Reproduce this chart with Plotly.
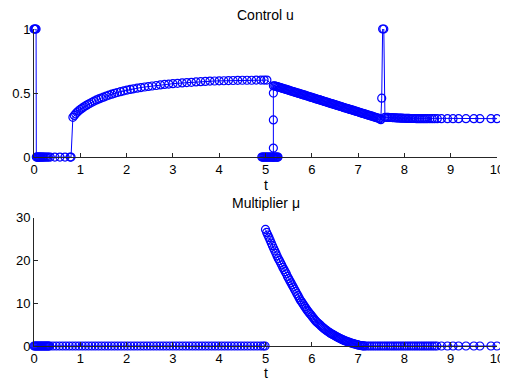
import plotly.graph_objects as go
from plotly.subplots import make_subplots

# ---- control u ----
# bang at the start, then the boundary arc up to t ~ 5
t_u_start = [0.0, 0.015, 0.03, 0.045,
             0.05, 0.065, 0.08, 0.095, 0.11, 0.125, 0.14, 0.16, 0.18, 0.2,
             0.22, 0.25, 0.28, 0.31, 0.35, 0.45, 0.56, 0.67, 0.78, 0.8,
             0.84, 0.87, 0.9, 0.93, 0.96, 1.0, 1.04, 1.08, 1.12, 1.16,
             1.2, 1.25, 1.3, 1.35, 1.4, 1.45, 1.5, 1.56, 1.62, 1.68,
             1.74, 1.8, 1.87, 1.94, 2.01, 2.08, 2.15, 2.23, 2.31, 2.39,
             2.47, 2.55, 2.64, 2.73, 2.82, 2.91, 3.0, 3.1, 3.2, 3.3,
             3.4, 3.5, 3.6, 3.7, 3.8, 3.9, 4.0, 4.1, 4.2, 4.3,
             4.4, 4.5, 4.6, 4.7, 4.8, 4.9, 4.97, 5.03,
             5.17, 5.17, 5.17, 5.17, 5.17]
u_start = [1.0, 1.0, 1.0, 1.0,
           0.0, 0.0, 0.0, 0.0, 0.0, 0.0, 0.0, 0.0, 0.0, 0.0,
           0.0, 0.0, 0.0, 0.0, 0.0, 0.0, 0.0, 0.0, 0.0, 0.0,
           0.31, 0.325, 0.338, 0.35, 0.36, 0.372, 0.382, 0.392, 0.401, 0.41,
           0.418, 0.428, 0.437, 0.446, 0.454, 0.461, 0.468, 0.476, 0.484, 0.491,
           0.498, 0.504, 0.511, 0.517, 0.523, 0.528, 0.533, 0.538, 0.543, 0.547,
           0.551, 0.555, 0.559, 0.563, 0.567, 0.57, 0.573, 0.576, 0.579, 0.582,
           0.584, 0.587, 0.589, 0.591, 0.593, 0.594, 0.595, 0.596, 0.597, 0.598,
           0.599, 0.6, 0.6, 0.6, 0.601, 0.601, 0.601, 0.601,
           0.556, 0.5, 0.29, 0.07, 0.0]

t_u_blob = [4.92, 4.94, 4.96, 4.98, 5.0, 5.02, 5.04, 5.06, 5.08, 5.1,
            5.12, 5.14, 5.16, 5.18, 5.2, 5.22, 5.24, 5.26, 5.27]
u_blob = [0.0, 0.0, 0.0, 0.0, 0.0, 0.0, 0.0, 0.0, 0.0, 0.0,
          0.0, 0.0, 0.0, 0.0, 0.0, 0.0, 0.0, 0.0, 0.0]

# decreasing arc, short spike back to 1 near t = 7.55, then flat tail
t_u_end = [5.2, 5.225, 5.25, 5.275, 5.3, 5.325, 5.35, 5.375, 5.4, 5.425,
           5.45, 5.475, 5.5, 5.525, 5.55, 5.575, 5.6, 5.625, 5.65, 5.675,
           5.7, 5.725, 5.75, 5.775, 5.8, 5.825, 5.85, 5.875, 5.9, 5.925,
           5.95, 5.975, 6.0, 6.025, 6.05, 6.075, 6.1, 6.125, 6.15, 6.175,
           6.2, 6.225, 6.25, 6.275, 6.3, 6.325, 6.35, 6.375, 6.4, 6.425,
           6.45, 6.475, 6.5, 6.525, 6.55, 6.575, 6.6, 6.625, 6.65, 6.675,
           6.7, 6.725, 6.75, 6.775, 6.8, 6.825, 6.85, 6.875, 6.9, 6.925,
           6.95, 6.975, 7.0, 7.025, 7.05, 7.075, 7.1, 7.125, 7.15, 7.175,
           7.2, 7.225, 7.25, 7.275, 7.3, 7.325, 7.35, 7.375, 7.4, 7.425,
           7.45, 7.475, 7.49,
           7.51, 7.53, 7.555, 7.58,
           7.62, 7.65, 7.68, 7.71, 7.74, 7.77, 7.8, 7.83, 7.86, 7.89,
           7.92, 7.95, 7.98, 8.01, 8.04, 8.07, 8.1, 8.13, 8.16, 8.19,
           8.22, 8.26, 8.3, 8.34, 8.38, 8.42, 8.46, 8.5, 8.55, 8.6,
           8.65, 8.71, 8.8, 8.93, 9.05, 9.17, 9.33, 9.5, 9.63, 9.87, 10.0]
u_end = [0.556, 0.553, 0.55, 0.548, 0.545, 0.542, 0.539, 0.536, 0.533, 0.531,
         0.528, 0.525, 0.522, 0.519, 0.516, 0.514, 0.511, 0.508, 0.505, 0.502,
         0.5, 0.497, 0.494, 0.491, 0.488, 0.485, 0.483, 0.48, 0.477, 0.474,
         0.471, 0.468, 0.466, 0.463, 0.46, 0.457, 0.454, 0.451, 0.449, 0.446,
         0.443, 0.44, 0.437, 0.434, 0.432, 0.429, 0.426, 0.423, 0.42, 0.417,
         0.415, 0.412, 0.409, 0.406, 0.403, 0.4, 0.398, 0.395, 0.392, 0.389,
         0.386, 0.383, 0.381, 0.378, 0.375, 0.372, 0.37, 0.367, 0.364, 0.361,
         0.358, 0.356, 0.353, 0.35, 0.347, 0.344, 0.341, 0.339, 0.336, 0.333,
         0.33, 0.327, 0.324, 0.322, 0.319, 0.316, 0.313, 0.31, 0.307, 0.305,
         0.302, 0.299, 0.292,
         0.46, 1.0, 1.0, 0.31,
         0.31, 0.31, 0.309, 0.309, 0.308, 0.307, 0.307, 0.306, 0.305, 0.305,
         0.304, 0.304, 0.303, 0.303, 0.302, 0.302, 0.302, 0.301, 0.301, 0.301,
         0.301, 0.3, 0.3, 0.3, 0.3, 0.3, 0.3, 0.3, 0.3, 0.3,
         0.3, 0.3, 0.3, 0.3, 0.3, 0.3, 0.3, 0.3, 0.3, 0.3, 0.3]

# ---- multiplier mu ----
t_mu_zero = [0.0, 0.02, 0.04, 0.06, 0.08, 0.1, 0.12, 0.14, 0.16, 0.18,
             0.2, 0.22, 0.24, 0.26, 0.28, 0.3, 0.32, 0.34,
             0.41, 0.48, 0.55, 0.62, 0.69, 0.76, 0.83, 0.9, 0.97, 1.04,
             1.11, 1.18, 1.25, 1.32, 1.39, 1.46, 1.53, 1.6, 1.67, 1.74,
             1.81, 1.88, 1.95, 2.02, 2.09, 2.16, 2.23, 2.3, 2.37, 2.44,
             2.51, 2.58, 2.65, 2.72, 2.79, 2.86, 2.93, 3.0, 3.07, 3.14,
             3.21, 3.28, 3.35, 3.42, 3.49, 3.56, 3.63, 3.7, 3.77, 3.84,
             3.91, 3.98, 4.05, 4.12, 4.19, 4.26, 4.33, 4.4, 4.47, 4.54,
             4.61, 4.68, 4.75, 4.82, 4.89, 4.95, 4.99]
mu_zero = [0.0, 0.0, 0.0, 0.0, 0.0, 0.0, 0.0, 0.0, 0.0, 0.0,
           0.0, 0.0, 0.0, 0.0, 0.0, 0.0, 0.0, 0.0,
           0.0, 0.0, 0.0, 0.0, 0.0, 0.0, 0.0, 0.0, 0.0, 0.0,
           0.0, 0.0, 0.0, 0.0, 0.0, 0.0, 0.0, 0.0, 0.0, 0.0,
           0.0, 0.0, 0.0, 0.0, 0.0, 0.0, 0.0, 0.0, 0.0, 0.0,
           0.0, 0.0, 0.0, 0.0, 0.0, 0.0, 0.0, 0.0, 0.0, 0.0,
           0.0, 0.0, 0.0, 0.0, 0.0, 0.0, 0.0, 0.0, 0.0, 0.0,
           0.0, 0.0, 0.0, 0.0, 0.0, 0.0, 0.0, 0.0, 0.0, 0.0,
           0.0, 0.0, 0.0, 0.0, 0.0, 0.0, 0.0]

t_mu_arc = [5.0, 5.025, 5.05, 5.075, 5.1, 5.125, 5.15, 5.175, 5.2, 5.225,
            5.25, 5.275, 5.3, 5.325, 5.35, 5.375, 5.4, 5.425, 5.45, 5.475,
            5.5, 5.525, 5.55, 5.575, 5.6, 5.625, 5.65, 5.675, 5.7, 5.725,
            5.75, 5.775, 5.8, 5.825, 5.85, 5.875, 5.9, 5.925, 5.95, 5.975,
            6.0, 6.025, 6.05, 6.075, 6.1, 6.125, 6.15, 6.175, 6.2, 6.225,
            6.25, 6.275, 6.3, 6.325, 6.35, 6.375, 6.4, 6.425, 6.45, 6.475,
            6.5, 6.525, 6.55, 6.575, 6.6, 6.625, 6.65, 6.675, 6.7, 6.725,
            6.75, 6.775, 6.8, 6.825, 6.85, 6.875, 6.9, 6.925, 6.95, 6.975,
            7.0, 7.025, 7.05, 7.075, 7.1, 7.125, 7.15,
            7.2, 7.25, 7.3, 7.35, 7.4, 7.45, 7.5, 7.55, 7.6, 7.65,
            7.7, 7.75, 7.8, 7.85, 7.9, 7.95, 8.0, 8.05, 8.1, 8.15,
            8.2, 8.25, 8.3, 8.35, 8.4, 8.45, 8.5, 8.55, 8.6, 8.65, 8.7,
            8.8, 8.93, 9.05, 9.17, 9.33, 9.5, 9.63, 9.87, 10.0]
mu_arc = [27.3, 26.6, 26.0, 25.4, 24.8, 24.1, 23.5, 22.9, 22.3, 21.7,
          21.1, 20.5, 20.0, 19.5, 19.0, 18.4, 17.9, 17.4, 16.9, 16.3,
          15.8, 15.3, 14.8, 14.3, 13.8, 13.3, 12.8, 12.3, 11.8, 11.3,
          10.8, 10.4, 10.0, 9.6, 9.2, 8.8, 8.4, 8.05, 7.7, 7.35,
          7.0, 6.65, 6.3, 6.0, 5.7, 5.45, 5.2, 4.95, 4.7, 4.45,
          4.2, 4.0, 3.8, 3.6, 3.4, 3.2, 3.0, 2.85, 2.7, 2.55,
          2.4, 2.25, 2.1, 1.95, 1.8, 1.68, 1.55, 1.42, 1.3, 1.2,
          1.1, 1.0, 0.9, 0.8, 0.7, 0.62, 0.55, 0.47, 0.4, 0.32,
          0.25, 0.18, 0.12, 0.08, 0.05, 0.02, 0.0,
          0.0, 0.0, 0.0, 0.0, 0.0, 0.0, 0.0, 0.0, 0.0, 0.0,
          0.0, 0.0, 0.0, 0.0, 0.0, 0.0, 0.0, 0.0, 0.0, 0.0,
          0.0, 0.0, 0.0, 0.0, 0.0, 0.0, 0.0, 0.0, 0.0, 0.0, 0.0,
          0.0, 0.0, 0.0, 0.0, 0.0, 0.0, 0.0, 0.0, 0.0]


def join(*segs):
    out = []
    for i, s in enumerate(segs):
        if i:
            out.append(None)
        out.extend(s)
    return out


BLUE = "#0000ff"
AX = "#262626"
FONT = "Liberation Sans, Arial, Helvetica, sans-serif"

marker = dict(symbol="circle-open", size=8, color=BLUE, line=dict(width=1.2, color=BLUE))

fig = make_subplots(rows=2, cols=1)
fig.add_trace(go.Scatter(
    x=join(t_u_start, t_u_blob, t_u_end),
    y=join(u_start, u_blob, u_end),
    mode="lines+markers", line=dict(color=BLUE, width=1), marker=marker,
    cliponaxis=False, showlegend=False,
), row=1, col=1)
fig.add_trace(go.Scatter(
    x=join(t_mu_zero, t_mu_arc),
    y=join(mu_zero, mu_arc),
    mode="lines+markers", line=dict(color=BLUE, width=1), marker=marker,
    cliponaxis=False, showlegend=False,
), row=2, col=1)

axis_common = dict(showgrid=False, zeroline=False, showline=True, linecolor=AX,
                   linewidth=1, ticks="inside", ticklen=4, tickcolor=AX,
                   automargin=False, ticklabeloverflow="allow",
                   tickfont=dict(family=FONT, size=13, color="black"))
xticks = list(range(0, 11))
fig.update_xaxes(range=[0, 10], tickvals=xticks, **axis_common)
fig.update_yaxes(**axis_common)
# the page body adds an 8px offset on the left/top; margins absorb it
fig.update_layout(
    yaxis=dict(range=[0, 1], tickvals=[0, 0.5, 1], ticktext=["0", "0.5", "1"],
               domain=[0.596, 1]),
    yaxis2=dict(range=[0, 30], tickvals=[0, 10, 20, 30], domain=[0, 0.404]),
    width=508, height=381,
    margin=dict(l=26, r=19, t=21, b=43),
    paper_bgcolor="white", plot_bgcolor="white",
    font=dict(family=FONT, color="black"),
)

labels = [("Control u", 1.044), ("t", 0.508), ("Multiplier \u03bc", 0.451), ("t", -0.085)]
for txt, y in labels:
    fig.add_annotation(text=txt, x=0.5, y=y, xref="paper", yref="paper",
                       xanchor="center", yanchor="middle", showarrow=False,
                       font=dict(family=FONT, size=14, color="black"))

fig.write_html("out.html")
